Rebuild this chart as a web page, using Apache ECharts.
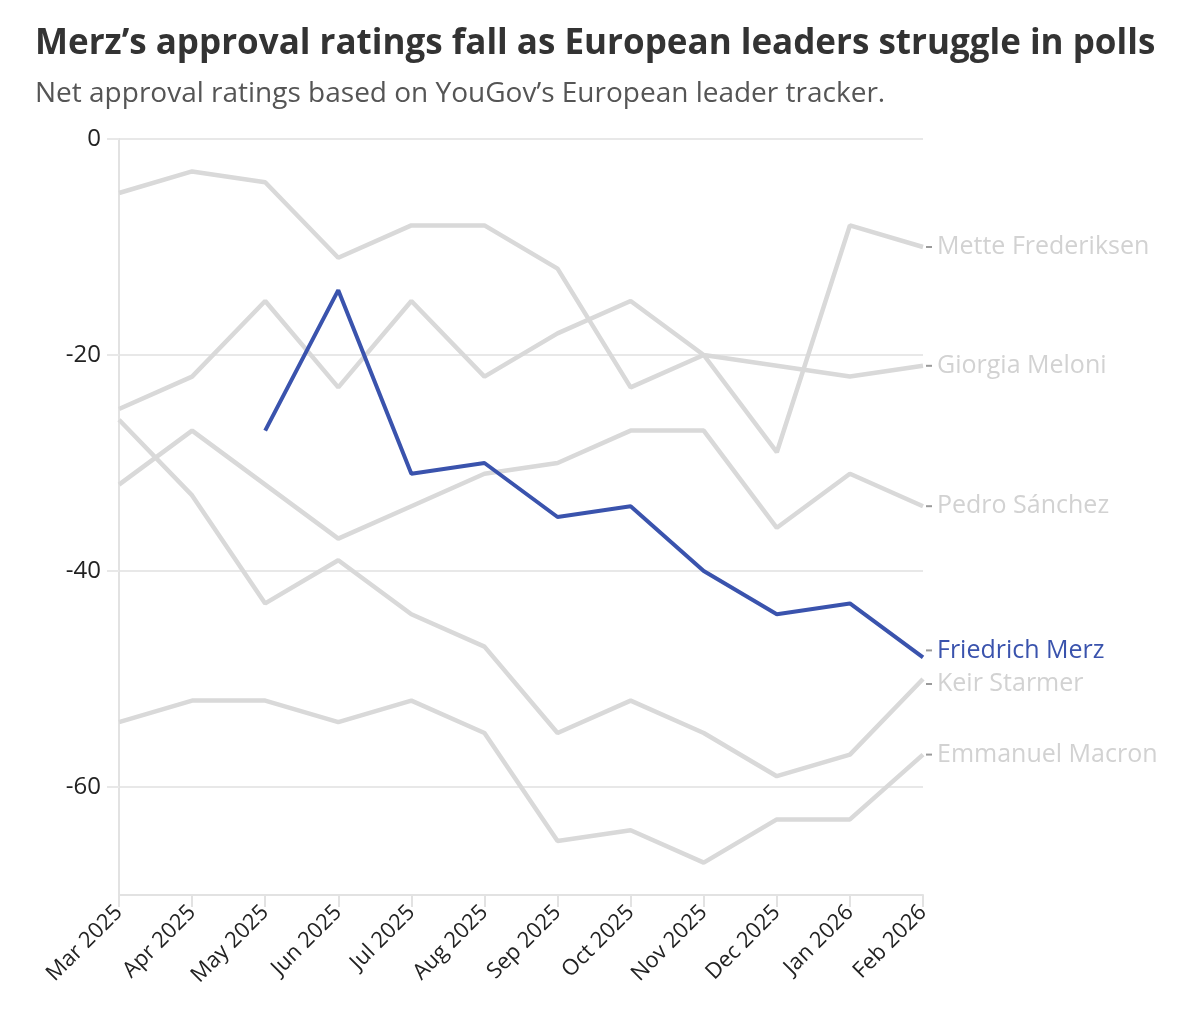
<!DOCTYPE html>
<html>
<head>
    <meta charset="UTF-8">
    <title>Merz approval ratings</title>
    <script src="https://cdn.jsdelivr.net/npm/echarts@6/dist/echarts.min.js"></script>
    <style>
        body { margin: 0; background: #fff; }
        #chart { width: 1200px; height: 1020px; }
    </style>
</head>
<body>
    <div id="chart"></div>
    <script>
        var months = ['Mar 2025', 'Apr 2025', 'May 2025', 'Jun 2025', 'Jul 2025', 'Aug 2025',
                      'Sep 2025', 'Oct 2025', 'Nov 2025', 'Dec 2025', 'Jan 2026', 'Feb 2026'];
        var yTicks = [0, -20, -40, -60];

        var frederiksen = [-5, -3, -4, -11, -8, -8, -12, -23, -20, -29, -8, -10];
        var meloni      = [-25, -22, -15, -23, -15, -22, -18, -15, -20, -21, -22, -21];
        var sanchez     = [-32, -27, -32, -37, -34, -31, -30, -27, -27, -36, -31, -34];
        var merz        = [null, null, -27, -14, -31, -30, -35, -34, -40, -44, -43, -48];
        var starmer     = [-26, -33, -43, -39, -44, -47, -55, -52, -55, -59, -57, -50];
        var macron      = [-54, -52, -52, -54, -52, -55, -65, -64, -67, -63, -63, -57];

        var grey = '#d9d9d9';
        var blue = '#3a53ad';
        var font = '"Open Sans", "Noto Sans", sans-serif';

        function line(name, data, color, width, z, offset) {
            return {
                name: name,
                type: 'line',
                data: data,
                z: z,
                symbol: 'none',
                lineStyle: { color: color, width: width },
                endLabel: {
                    show: true,
                    formatter: '{d|}{n|' + name + '}',
                    fontFamily: font,
                    distance: 3,
                    offset: offset || [0, 0],
                    rich: {
                        d: { width: 6, height: 2, backgroundColor: '#9a9a9a' },
                        n: { fontFamily: font, fontSize: 25, padding: [0, 0, 0, 5],
                             color: color === grey ? '#d2d2d2' : color }
                    }
                },
                emphasis: { disabled: true }
            };
        }

        var series = [
            line('Mette Frederiksen', frederiksen, grey, 4.5, 2),
            line('Giorgia Meloni', meloni, grey, 4.5, 2),
            line('Pedro S\u00e1nchez', sanchez, grey, 4.5, 2),
            line('Keir Starmer', starmer, grey, 4.5, 2, [0, 5]),
            line('Emmanuel Macron', macron, grey, 4.5, 2),
            line('Friedrich Merz', merz, blue, 4, 5, [0, -7])
        ];
        // horizontal grid lines at the labelled ticks
        series[0].markLine = {
            silent: true,
            symbol: 'none',
            label: { show: false },
            lineStyle: { color: '#e8e8e8', width: 2, type: 'solid' },
            z: 0,
            data: yTicks.map(function (v) { return { yAxis: v }; })
        };

        var chart = echarts.init(document.getElementById('chart'), null, { renderer: 'canvas' });
        chart.setOption({
            animation: false,
            title: [{
                text: 'Merz\u2019s approval ratings fall as European leaders struggle in polls',
                left: 30,
                top: 22,
                textStyle: { fontFamily: font, fontSize: 35, fontWeight: 'bold', color: '#333' }
            }, {
                text: 'Net approval ratings based on YouGov\u2019s European leader tracker.',
                left: 30,
                top: 75,
                textStyle: { fontFamily: font, fontSize: 28, fontWeight: 'normal', color: '#555' }
            }],
            grid: { left: 119, right: 277, top: 139, bottom: 125 },
            xAxis: {
                type: 'category',
                data: months,
                boundaryGap: false,
                axisLine: { onZero: false, lineStyle: { color: '#e2e2e2', width: 2 } },
                axisTick: { show: true, length: 12, lineStyle: { color: '#e2e2e2', width: 2 } },
                axisLabel: { rotate: 45, fontFamily: font, fontSize: 22, color: '#222', margin: 14 },
                splitLine: { show: false }
            },
            yAxis: {
                type: 'value',
                min: -70,
                max: 0,
                axisLine: { show: true, lineStyle: { color: '#e2e2e2', width: 2 } },
                axisTick: { show: true, length: 12, customValues: yTicks,
                    lineStyle: { color: '#e8e8e8', width: 2 } },
                axisLabel: { fontFamily: font, fontSize: 24, color: '#222', margin: 18,
                    customValues: yTicks },
                splitLine: { show: false }
            },
            series: series
        });
    </script>
</body>
</html>
